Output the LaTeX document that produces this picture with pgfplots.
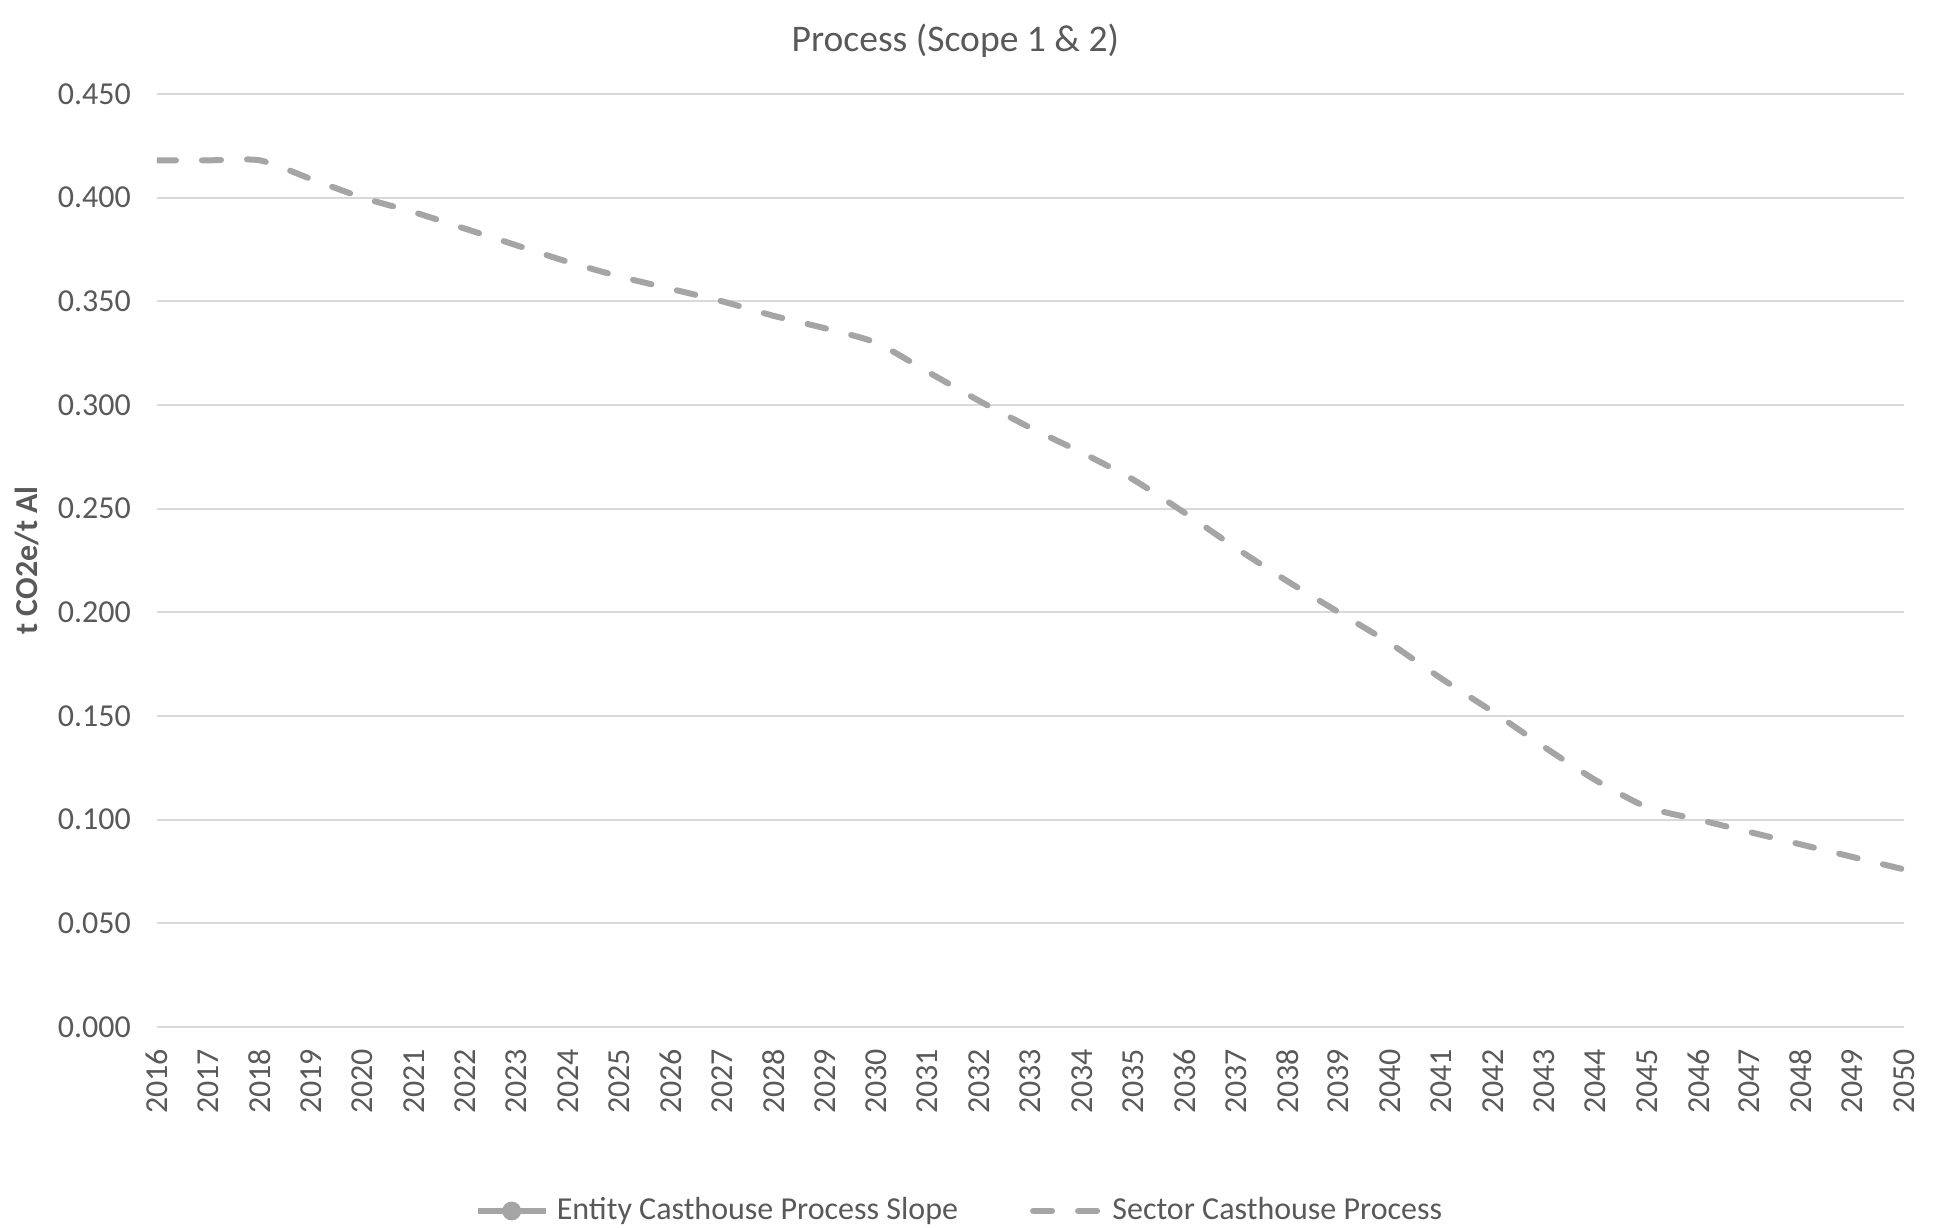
\documentclass[border=0pt]{standalone}
\usepackage{pgfplots}
\pgfplotsset{compat=1.18}
\usepackage{fontspec}
\setmainfont{Carlito}
\definecolor{txt}{HTML}{595959}
\definecolor{gridc}{HTML}{D9D9D9}
\definecolor{ser}{HTML}{A5A5A5}
\begin{document}
\begin{tikzpicture}
\path[use as bounding box] (-39.25pt,-50.25pt) rectangle (445pt,256.75pt);
\begin{axis}[
  at={(0pt,0pt)}, anchor=south west,
  scale only axis,
  width=436.75pt, height=233.25pt,
  xmin=2016, xmax=2050,
  ymin=0, ymax=0.45,
  xtick={2016,2017,...,2050},
  ytick={0,0.05,...,0.45},
  axis line style={draw=none},
  tick style={draw=none},
  xmajorgrids=false,
  ymajorgrids=true,
  major grid style={draw=gridc, line width=0.5pt},
  /pgf/number format/assume math mode=true,
  x tick label style={/pgf/number format/1000 sep={}, rotate=90, anchor=east, font=\fontsize{8}{9}\selectfont, text=txt, xshift=-2pt},
  y tick label style={/pgf/number format/fixed, /pgf/number format/fixed zerofill, /pgf/number format/precision=3, font=\fontsize{8}{9}\selectfont, text=txt, xshift=-3pt},
  ylabel={t CO2e/t Al},
  ylabel style={at={([xshift=-32.5pt]rel axis cs:0,0.5)}, anchor=center, font=\bfseries\fontsize{8}{9}\selectfont, text=txt},
  title={Process (Scope 1 \& 2)},
  title style={at={([yshift=7.3pt]rel axis cs:0.457,1)}, anchor=center, font=\fontsize{9.4}{11}\selectfont, text=txt},
  legend style={at={([yshift=-46pt]rel axis cs:0.461,0)}, anchor=center, draw=none, fill=none,
    legend columns=2, font=\fontsize{8}{9}\selectfont, text=txt,
    /tikz/every even column/.append style={column sep=16pt}},
  legend cell align=left,
]
\addlegendimage{ser, line width=1.5pt, mark=*, mark size=1.6pt, mark options={solid, fill=ser}}
\addlegendentry{Entity Casthouse Process Slope}
\addplot[ser, line width=1.5pt, line cap=round, dash pattern=on 4.75pt off 6.5pt, smooth, tension=0.4] coordinates {
(2016,0.418) (2017,0.418) (2018,0.418) (2019,0.409) (2020,0.400)
(2021,0.393) (2022,0.385) (2023,0.377) (2024,0.369) (2025,0.362)
(2026,0.356) (2027,0.350) (2028,0.343) (2029,0.337) (2030,0.330)
(2031,0.316) (2032,0.302) (2033,0.289) (2034,0.277) (2035,0.264)
(2036,0.248) (2037,0.231) (2038,0.215) (2039,0.200) (2040,0.185)
(2041,0.168) (2042,0.152) (2043,0.135) (2044,0.119) (2045,0.106)
(2046,0.100) (2047,0.094) (2048,0.088) (2049,0.082) (2050,0.076)
};
\addlegendentry{Sector Casthouse Process}
\end{axis}
\end{tikzpicture}
\end{document}
